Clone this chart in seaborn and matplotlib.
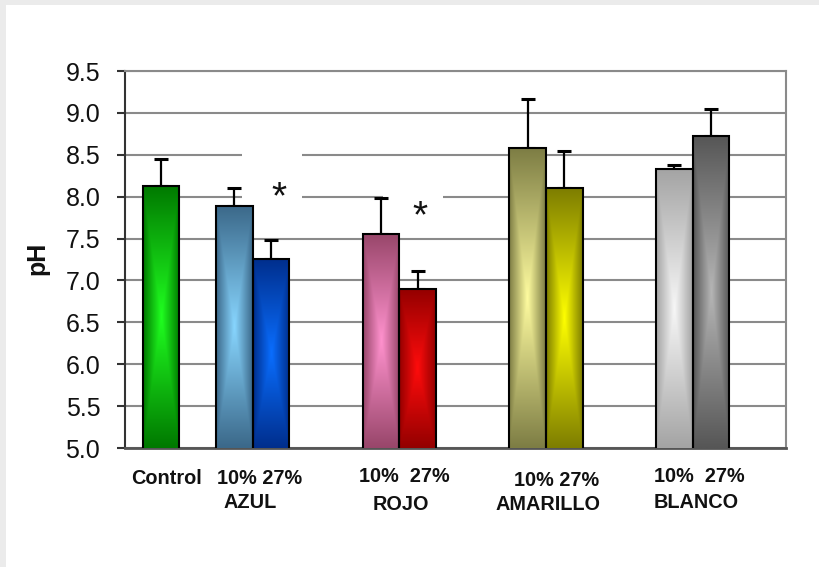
import numpy as np
import pandas as pd
import matplotlib
matplotlib.use("Agg")
import matplotlib.pyplot as plt
import matplotlib.colors as mcolors
import matplotlib.transforms as mtransforms
from matplotlib.patches import Rectangle
import seaborn as sns

# ---- data: pH per treatment (mean and upper SD) ----
groups = ["Control", "AZUL", "AZUL", "ROJO", "ROJO",
          "AMARILLO", "AMARILLO", "BLANCO", "BLANCO"]
doses = ["", "10%", "27%", "10%", "27%", "10%", "27%", "10%", "27%"]
ph_mean = [8.13, 7.89, 7.26, 7.56, 6.90, 8.58, 8.10, 8.33, 8.72]
ph_sd = [0.32, 0.21, 0.22, 0.43, 0.21, 0.58, 0.45, 0.05, 0.33]
y_ticks = [5.0, 5.5, 6.0, 6.5, 7.0, 7.5, 8.0, 8.5, 9.0, 9.5]
color_groups = ["AZUL", "ROJO", "AMARILLO", "BLANCO"]
dose_text = ["10% 27%", "10%  27%", "10% 27%", "10%  27%"]

# ---- style ----
# (edge colour, centre colour) of the rectangular "from centre" gradient
bar_fills = [("#007800", "#20ff20"),
             ("#3b6889", "#88d6ff"), ("#002e8c", "#0a6eff"),
             ("#98466a", "#ff92ce"), ("#930000", "#ff0c0c"),
             ("#7d7d44", "#fffca0"), ("#7d7d00", "#ffff00"),
             ("#a4a4a4", "#f7f7f7"), ("#565656", "#b6b6b6")]
FONT = ["Liberation Sans", "DejaVu Sans"]
GRID = "#8a8a8a"

# slot positions: control alone, then pairs separated by two empty slots
slot = []
for i, g in enumerate(groups):
    if g == "Control":
        slot.append(0)
    else:
        gi = color_groups.index(g)
        slot.append(2 + 4 * gi + (1 if doses[i] == "27%" else 0))

df = pd.DataFrame({"slot": slot, "ph": ph_mean, "grupo": groups, "dosis": doses})

sns.set_theme(style="white")
plt.rcParams["font.family"] = FONT

W, H = 819, 567
fig = plt.figure(figsize=(W / 100, H / 100), dpi=100)
fig.patch.set_facecolor("white")
ax = fig.add_axes([125 / W, 1 - 448 / H, (786 - 125) / W, (448 - 71) / H])

sns.barplot(data=df, x="slot", y="ph", native_scale=True, width=1.0,
            errorbar=None, color="white", edgecolor="black",
            linewidth=1.5, ax=ax)

YMIN, YMAX = y_ticks[0], y_ticks[-1]
XLIM = (-0.98, 17.05)

bars = sorted(ax.patches, key=lambda p: p.get_x())
for patch, (edge, centre) in zip(bars, bar_fills):
    patch.set_facecolor("none")
    patch.set_zorder(3)
    x0, w = patch.get_x(), patch.get_width()
    y1 = patch.get_y() + patch.get_height()
    y0 = max(patch.get_y(), YMIN)
    u = np.linspace(-1, 1, 80)
    v = np.linspace(-1, 1, 300)
    U, V = np.meshgrid(u, v)
    t = np.maximum(np.abs(U), np.abs(V))[..., None]
    e = np.array(mcolors.to_rgb(edge))
    c = np.array(mcolors.to_rgb(centre))
    img = c + (e - c) * t
    im = ax.imshow(img, extent=(x0, x0 + w, y0, y1), origin="lower",
                   aspect="auto", interpolation="bilinear", zorder=2.9)
    im.set_clip_path(patch)

centres = [p.get_x() + p.get_width() / 2 for p in bars]
ax.errorbar(centres, ph_mean, yerr=[np.zeros(len(ph_sd)), ph_sd],
            fmt="none", ecolor="black", elinewidth=1.6, capsize=4.8,
            capthick=2.2, zorder=2.8)

# significance marks, each on a white box that hides the grid behind it
for (bx, by, bw, bh), (sx, sy) in [((2.21, 7.85, 1.64, 0.75), (3.22, 7.86)),
                                   ((6.06, 7.80, 1.64, 0.35), (7.08, 7.64))]:
    ax.add_patch(Rectangle((bx, by), bw, bh, facecolor="white",
                           edgecolor="none", zorder=1.2))
    ax.text(sx, sy, "*", ha="center", va="baseline", fontsize=28,
            color="#111111", zorder=5)

ax.set_xlim(*XLIM)
ax.set_ylim(YMIN, YMAX)
ax.set_yticks(y_ticks)
ax.set_yticklabels([f"{v:.1f}" for v in y_ticks], fontsize=18, color="#111111")
ax.set_xticks([])
ax.set_xlabel("")
ax.set_ylabel("")
ax.tick_params(axis="y", left=True, length=5.8, width=1.5, color="#333333",
               pad=12, direction="out")

ax.set_axisbelow(True)
ax.yaxis.grid(True, color=GRID, linewidth=1.5)
ax.xaxis.grid(False)
for side in ("top", "right"):
    ax.spines[side].set_color(GRID)
    ax.spines[side].set_linewidth(1.5)
ax.spines["left"].set_color("#333333")
ax.spines["left"].set_linewidth(1.5)
ax.spines["bottom"].set_color("#555555")
ax.spines["bottom"].set_linewidth(2)

# category labels under the bars
tr = mtransforms.blended_transform_factory(ax.transData, fig.transFigure)
lab_kw = dict(ha="center", va="center", fontsize=14.3, fontweight="bold",
              color="#111111", transform=tr)
ax.text(slot[0] + 0.16, 1 - 479 / H, "Control", **lab_kw)
dose_layout = [(0.20, 478, -0.07, 502), (0.15, 476, 0.04, 504.5),
               (0.30, 481, 0.07, 504.5), (0.19, 477, 0.10, 503)]
for gi, g in enumerate(color_groups):
    mid = 2 + 4 * gi + 0.5
    ddx, dpy, ndx, npy = dose_layout[gi]
    ax.text(mid + ddx, 1 - dpy / H, dose_text[gi], **lab_kw)
    ax.text(mid + ndx, 1 - npy / H, g, **lab_kw)

fig.text(37.5 / W, 1 - 258 / H, "pH", rotation=90, ha="center", va="center",
         fontsize=18, fontweight="bold", color="#111111")

# thin grey frame along the top and left edges of the canvas
fig.patches.append(Rectangle((0, 1 - 5 / H), 1, 5 / H, transform=fig.transFigure,
                             facecolor="#ebebeb", edgecolor="none", zorder=0))
fig.patches.append(Rectangle((0, 0), 6 / W, 1, transform=fig.transFigure,
                             facecolor="#ebebeb", edgecolor="none", zorder=0))

fig.savefig("out.png", dpi=100)
